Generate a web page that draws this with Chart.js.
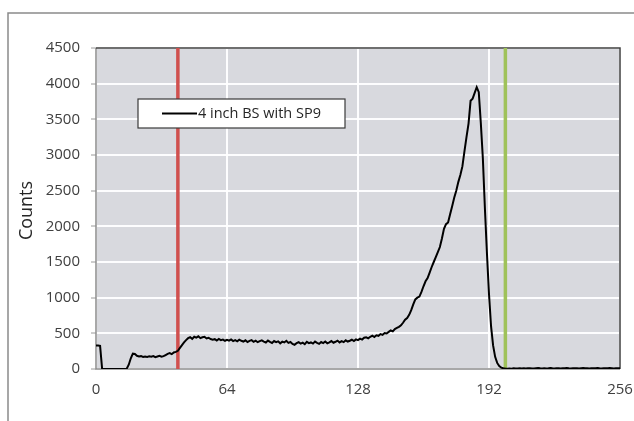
<!DOCTYPE html>
<html>
<head>
<meta charset="utf-8">
<script src="https://cdn.jsdelivr.net/npm/chart.js@4"></script>
<style>
  html, body { margin: 0; padding: 0; background: #ffffff; }
  #wrap { position: relative; width: 634px; height: 421px; }
</style>
</head>
<body>
<div id="wrap"><canvas id="c" width="634" height="421"></canvas></div>
<script>
// Pulse-height spectrum: counts per channel (channels 0..256)
const seriesLabel = '4 inch BS with SP9';
const counts = [
  330, 330, 325, 0, 0, 0, 0, 0, 0, 0, 0, 0, 0, 0, 0, 5,
  60, 150, 215, 210, 185, 175, 180, 168, 176, 170, 178, 172, 182, 166, 175, 184,
  172, 180, 196, 212, 222, 208, 232, 240, 255, 295, 335, 372, 405, 432, 445, 422,
  452, 440, 458, 432, 445, 452, 428, 438, 420, 412, 418, 400, 422, 405, 412, 396,
  410, 398, 415, 392, 405, 388, 412, 396, 385, 402, 378, 395, 405, 382, 398, 376,
  390, 402, 385, 372, 398, 380, 365, 392, 376, 388, 360, 384, 372, 395, 366, 378,
  352, 340, 362, 375, 355, 370, 348, 380, 362, 372, 356, 384, 366, 352, 378, 364,
  386, 360, 374, 392, 368, 382, 398, 372, 390, 376, 402, 385, 396, 410, 392, 415,
  405, 425, 412, 438, 445, 430, 452, 468, 448, 472, 465, 490, 478, 505, 498, 520,
  540, 528, 560, 575, 590, 612, 648, 690, 715, 760, 825, 905, 975, 1000, 1015, 1080,
  1160, 1230, 1275, 1350, 1430, 1500, 1570, 1640, 1710, 1830, 1965, 2030, 2055, 2170, 2280, 2400,
  2500, 2620, 2720, 2840, 3050, 3250, 3440, 3760, 3790, 3870, 3950, 3880, 3450, 2950, 2250, 1620,
  1050, 600, 330, 170, 85, 40, 20, 10, 6, 4, 8, 5, 10, 6, 8, 12,
  8, 10, 6, 9, 12, 8, 6, 10, 14, 9, 7, 11, 8, 10, 13, 9,
  8, 12, 10, 7, 11, 9, 14, 10, 8, 12, 9, 11, 7, 10, 13, 9,
  10, 8, 12, 9, 11, 14, 10, 8, 12, 10, 9, 13, 11, 8, 10, 12,
  10
];
// Region-of-interest markers (channel numbers)
const lowerMarker = 40;
const upperMarker = 200;
// Axis tick values
const xTicks = [0, 64, 128, 192, 256];
const yTicks = [0, 500, 1000, 1500, 2000, 2500, 3000, 3500, 4000, 4500];

const FONT = '"Open Sans", "DejaVu Sans", sans-serif';

const spectrum = counts.map((v, i) => ({ x: i, y: v }));
const yMax = yTicks[yTicks.length - 1];

// Page frame, plot background, plot border, axis title and legend box
const framePlugin = {
  id: 'frame',
  beforeDraw(chart) {
    const ctx = chart.ctx;
    const a = chart.chartArea;
    ctx.save();
    ctx.fillStyle = '#ffffff';
    ctx.fillRect(0, 0, chart.width, chart.height);
    ctx.strokeStyle = '#8a8a8a';
    ctx.lineWidth = 1.5;
    ctx.beginPath();
    ctx.moveTo(8, chart.height);
    ctx.lineTo(8, 13);
    ctx.lineTo(chart.width, 13);
    ctx.stroke();
    ctx.fillStyle = '#d8d9de';
    ctx.fillRect(a.left, a.top, a.right - a.left, a.bottom - a.top);
    ctx.restore();
  },
  beforeDatasetsDraw(chart) {
    const ctx = chart.ctx;
    const a = chart.chartArea;
    ctx.save();
    ctx.lineWidth = 1.5;
    ctx.strokeStyle = '#8c8c8c';
    ctx.beginPath();
    ctx.moveTo(a.left, a.top);
    ctx.lineTo(a.left, a.bottom);
    ctx.lineTo(a.right, a.bottom);
    ctx.stroke();
    ctx.strokeStyle = '#404040';
    ctx.beginPath();
    ctx.moveTo(a.left, a.top);
    ctx.lineTo(a.right, a.top);
    ctx.lineTo(a.right, a.bottom);
    ctx.stroke();
    ctx.restore();
  },
  afterDraw(chart) {
    const ctx = chart.ctx;
    const a = chart.chartArea;
    // y-axis title
    ctx.save();
    ctx.translate(27, (a.top + a.bottom) / 2 + 2);
    ctx.rotate(-Math.PI / 2);
    ctx.fillStyle = '#262626';
    ctx.font = '18px ' + FONT;
    ctx.textAlign = 'center';
    ctx.textBaseline = 'middle';
    ctx.fillText('Counts', 0, 0);
    ctx.restore();
    // legend box
    const ds = chart.data.datasets[0];
    const bx = 138, by = 99, bw = 207, bh = 29;
    ctx.save();
    ctx.fillStyle = '#ffffff';
    ctx.fillRect(bx, by, bw, bh);
    ctx.strokeStyle = '#3a3a3a';
    ctx.lineWidth = 1.2;
    ctx.strokeRect(bx, by, bw, bh);
    ctx.strokeStyle = ds.borderColor;
    ctx.lineWidth = 2;
    ctx.beginPath();
    ctx.moveTo(bx + 24, by + 14.5);
    ctx.lineTo(bx + 59, by + 14.5);
    ctx.stroke();
    ctx.fillStyle = '#262626';
    ctx.font = '14.5px ' + FONT;
    ctx.textBaseline = 'middle';
    ctx.textAlign = 'left';
    ctx.fillText(ds.label, bx + 60, by + 15);
    ctx.restore();
  }
};

new Chart(document.getElementById('c'), {
  type: 'line',
  data: {
    datasets: [
      {
        label: seriesLabel,
        data: spectrum,
        borderColor: '#000000',
        borderWidth: 2,
        pointRadius: 0,
        tension: 0,
        fill: false,
        order: 0
      },
      {
        label: 'lower',
        data: [{ x: lowerMarker, y: 0 }, { x: lowerMarker, y: yMax }],
        borderColor: '#d0504e',
        borderWidth: 3.5,
        pointRadius: 0,
        fill: false,
        order: 1
      },
      {
        label: 'upper',
        data: [{ x: upperMarker, y: 0 }, { x: upperMarker, y: yMax }],
        borderColor: '#9fc25a',
        borderWidth: 3.5,
        pointRadius: 0,
        fill: false,
        order: 1
      }
    ]
  },
  options: {
    responsive: false,
    animation: false,
    events: [],
    layout: { padding: { left: 0, top: 48, right: 0, bottom: 0 } },
    plugins: {
      legend: { display: false },
      tooltip: { enabled: false },
      title: { display: false }
    },
    scales: {
      x: {
        type: 'linear',
        min: xTicks[0],
        max: xTicks[xTicks.length - 1],
        afterBuildTicks(scale) { scale.ticks = xTicks.map(v => ({ value: v })); },
        afterFit(scale) {
          scale.height = 52;
          scale.paddingLeft = 0;
          scale.paddingRight = 14;
        },
        border: { display: false },
        grid: { color: 'rgba(255,255,255,0.95)', lineWidth: 2, drawTicks: false },
        ticks: {
          color: '#404040',
          font: { family: FONT, size: 15 },
          padding: 12,
          maxRotation: 0,
          autoSkip: false,
          callback: v => String(v)
        }
      },
      y: {
        type: 'linear',
        min: yTicks[0],
        max: yMax,
        afterBuildTicks(scale) { scale.ticks = yTicks.map(v => ({ value: v })); },
        afterFit(scale) { scale.width = 96; },
        border: { display: false },
        grid: { color: 'rgba(255,255,255,0.95)', lineWidth: 2, tickLength: 5, tickColor: '#9a9a9a', tickWidth: 1 },
        ticks: {
          color: '#404040',
          font: { family: FONT, size: 15 },
          padding: 11,
          callback: v => String(v)
        }
      }
    }
  },
  plugins: [framePlugin]
});
</script>
</body>
</html>
